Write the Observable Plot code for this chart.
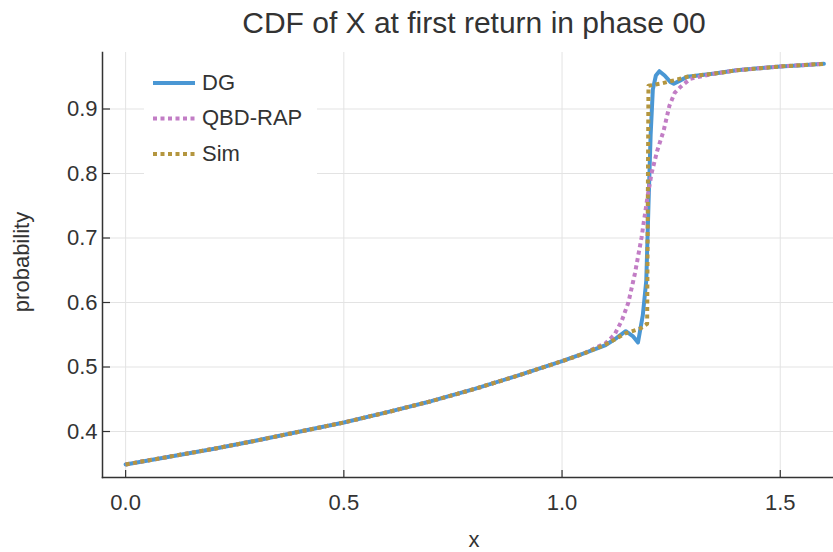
<!DOCTYPE html>
<html><head><meta charset="utf-8">
<script src="https://cdn.jsdelivr.net/npm/d3@7"></script>
<script src="https://cdn.jsdelivr.net/npm/@observablehq/plot@0.6"></script>
<style>
body{margin:0;background:#fff;}
svg{font-family:"Liberation Sans",Arial,sans-serif;}
</style>
</head><body><div id="chart"></div>
<script>
const title = "CDF of X at first return in phase 00";
const xLabel = "x";
const yLabel = "probability";
const seriesNames = ["DG", "QBD-RAP", "Sim"];
const seriesColors = ["#4a97d4", "#c27dc5", "#b4963f"];
const xTicks = [0.0, 0.5, 1.0, 1.5];
const yTicks = [0.4, 0.5, 0.6, 0.7, 0.8, 0.9];

const xDG = [0,0.1,0.2,0.3,0.4,0.5,0.6,0.7,0.8,0.9,1.0,1.05,1.1,1.125,1.146,1.162,1.174,1.185,1.193,1.198,1.203,1.208,1.215,1.223,1.235,1.248,1.256,1.27,1.287,1.35,1.4,1.45,1.5,1.55,1.6];
const yDG = [0.349,0.361,0.373,0.386,0.400,0.414,0.430,0.447,0.466,0.487,0.509,0.521,0.534,0.545,0.5555,0.548,0.538,0.58,0.634,0.75,0.86,0.93,0.952,0.9586,0.952,0.942,0.939,0.944,0.950,0.955,0.960,0.963,0.966,0.968,0.970];

const xQBD = [0,0.1,0.2,0.3,0.4,0.5,0.6,0.7,0.8,0.9,1.0,1.05,1.1,1.12,1.137,1.152,1.167,1.182,1.195,1.205,1.218,1.233,1.246,1.258,1.271,1.294,1.35,1.4,1.45,1.5,1.55,1.6];
const yQBD = [0.349,0.361,0.373,0.386,0.400,0.414,0.430,0.447,0.466,0.487,0.509,0.521,0.537,0.55,0.572,0.60,0.645,0.70,0.76,0.80,0.835,0.867,0.905,0.925,0.934,0.947,0.955,0.960,0.963,0.966,0.968,0.970];

const xSim = [0,0.1,0.2,0.3,0.4,0.5,0.6,0.7,0.8,0.9,1.0,1.05,1.1,1.145,1.18,1.195,1.198,1.23,1.26,1.287,1.35,1.4,1.45,1.5,1.55,1.6];
const ySim = [0.349,0.361,0.373,0.386,0.400,0.414,0.430,0.447,0.466,0.487,0.509,0.521,0.535,0.552,0.560,0.567,0.936,0.940,0.945,0.950,0.955,0.960,0.963,0.966,0.968,0.970];

const rows = (xs, ys) => xs.map((x, i) => ({x, y: ys[i]}));
const dataDG = rows(xDG, yDG), dataQBD = rows(xQBD, yQBD), dataSim = rows(xSim, ySim);

const W = 833, H = 552, mT = 52, mB = 75, mL = 102, mR = 0;
const plotH = H - mT - mB, plotW = W - mL - mR;
const fmt = d3.format(".1f");
const ink = "#333";

const chart = Plot.plot({
  width: W, height: H,
  marginTop: mT, marginBottom: mB, marginLeft: mL, marginRight: mR,
  style: {fontFamily: '"Liberation Sans", Arial, sans-serif', fontSize: "22px", color: ink, background: "#fff", overflow: "visible"},
  x: {domain: [-0.053, 1.622], label: null},
  y: {domain: [0.3287, 0.9876], label: null},
  marks: [
    Plot.gridX(xTicks, {stroke: "#e3e3e3", strokeOpacity: 1}),
    Plot.gridY(yTicks, {stroke: "#e3e3e3", strokeOpacity: 1}),
    Plot.axisX(xTicks, {tickSize: 0, tickPadding: 17, tickFormat: fmt, fontSize: 22, fill: ink, label: null}),
    Plot.axisY(yTicks, {tickSize: 0, tickPadding: 5, tickFormat: fmt, fontSize: 22, fill: ink, label: null}),
    Plot.tickX(xTicks, {x: d => d, stroke: ink, strokeWidth: 1.2, insetTop: plotH - 7}),
    Plot.tickY(yTicks, {y: d => d, stroke: ink, strokeWidth: 1.2, insetRight: plotW - 8}),
    Plot.frame({anchor: "left", stroke: ink, strokeWidth: 1.5}),
    Plot.frame({anchor: "bottom", stroke: ink, strokeWidth: 1.5}),
    Plot.line(dataDG, {x: "x", y: "y", stroke: seriesColors[0], strokeWidth: 4, curve: "linear"}),
    Plot.line(dataQBD, {x: "x", y: "y", stroke: seriesColors[1], strokeWidth: 4, strokeDasharray: "4,3.5", strokeLinecap: "butt", curve: "linear"}),
    Plot.line(dataSim, {x: "x", y: "y", stroke: seriesColors[2], strokeWidth: 4, strokeDasharray: "4,3.5", strokeLinecap: "butt", curve: "linear"})
  ]
});

const svg = d3.select(chart);
svg.append("text").attr("x", 474).attr("y", 25).attr("text-anchor", "middle").attr("dominant-baseline", "middle")
  .attr("font-size", 30).attr("fill", ink).text(title);
svg.append("text").attr("x", 474).attr("y", 541).attr("text-anchor", "middle").attr("dominant-baseline", "middle")
  .attr("font-size", 22).attr("fill", ink).text(xLabel);
svg.append("text").attr("transform", "translate(23,262) rotate(-90)").attr("text-anchor", "middle").attr("dominant-baseline", "middle")
  .attr("font-size", 22).attr("fill", ink).text(yLabel);

const lg = svg.append("g");
lg.append("rect").attr("x", 144).attr("y", 61).attr("width", 173).attr("height", 118).attr("fill", "#fff");
const dashes = [null, "4,3.5", "4,3.5"];
seriesNames.forEach((name, i) => {
  const yy = 83 + i * 35.5;
  const l = lg.append("line").attr("x1", 153).attr("x2", 195).attr("y1", yy).attr("y2", yy)
    .attr("stroke", seriesColors[i]).attr("stroke-width", 4);
  if (dashes[i]) l.attr("stroke-dasharray", dashes[i]);
  lg.append("text").attr("x", 202).attr("y", yy + 1).attr("text-anchor", "start").attr("dominant-baseline", "middle")
    .attr("font-size", 22).attr("fill", ink).text(name);
});

document.getElementById("chart").appendChild(chart);
</script>
</body></html>
